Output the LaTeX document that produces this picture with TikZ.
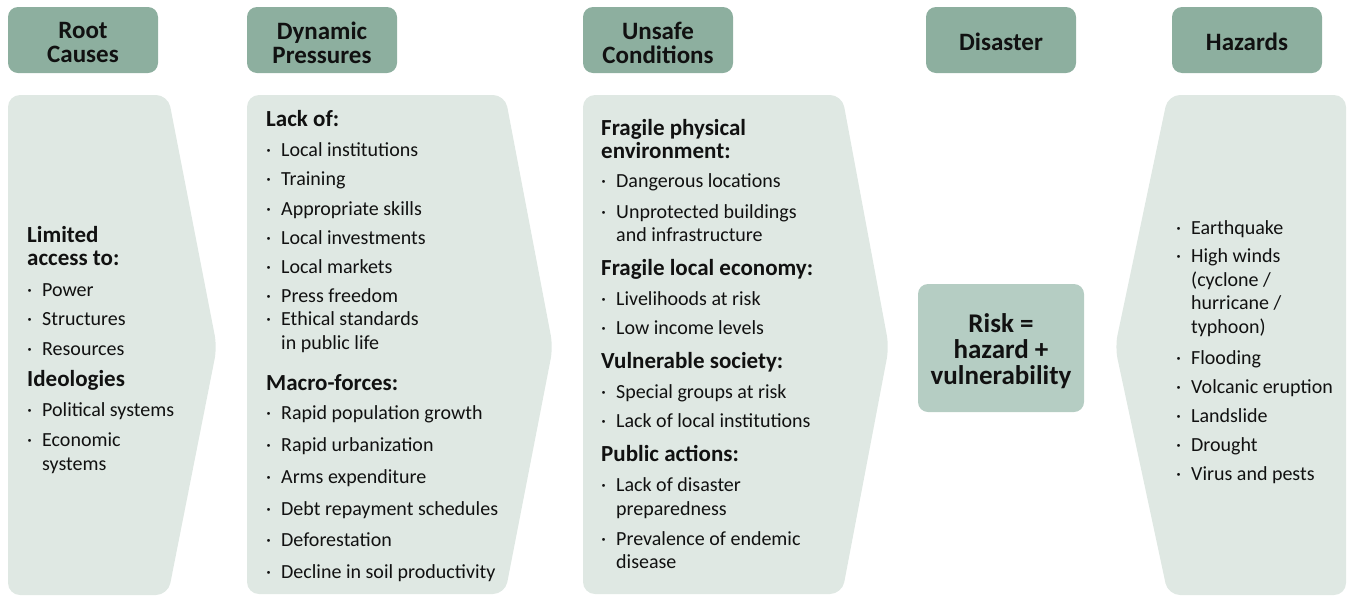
\documentclass[tikz,border=0pt]{standalone}
\usepackage{fontspec}
\setmainfont{Carlito}
\definecolor{hdr}{HTML}{8DAF9F}
\definecolor{bodyc}{HTML}{DFE8E3}
\definecolor{riskc}{HTML}{B5CDC3}
\definecolor{ink}{HTML}{111111}
\newcommand\ifont{\fontsize{20}{23.5}\selectfont}
\newcommand\bfont{\fontsize{23}{23}\selectfont\bfseries}
\newcommand\hfont{\fontsize{25}{24}\selectfont\bfseries}
\newcommand\rfont{\fontsize{27}{26}\selectfont\bfseries}
\newcommand\bt[1]{\makebox[15pt][l]{·}#1}
\newcommand\nl{\\\hspace*{15pt}}
\tikzset{
  hbox/.style={fill=hdr, rounded corners=10pt, minimum width=150pt, minimum height=66pt, inner sep=0pt},
  htext/.style={align=center, font=\hfont, text=ink, inner sep=0pt},
  bodyshape/.style={fill=bodyc, rounded corners=12pt},
  hdt/.style={anchor=base west, inner sep=0pt, font=\bfont, align=left, text=ink},
  itt/.style={anchor=base west, inner sep=0pt, font=\ifont, align=left, text=ink},
}
\begin{document}
\begin{tikzpicture}[x=1pt,y=-1pt]
\useasboundingbox (0,0) rectangle (1347,598);
% header boxes
\node[hbox] (h1) at (83,40) {};
\node[hbox] (h2) at (322,40) {};
\node[hbox] (h3) at (658,40) {};
\node[hbox] (h4) at (1001,40) {};
\node[hbox] (h5) at (1247,40) {};
\node[htext] (t1) at (83,42.5) {Root\\Causes};
\node[htext] (t2) at (322,42.5) {Dynamic\\Pressures};
\node[htext] (t3) at (658,42.5) {Unsafe\\Conditions};
\node[htext] (t4) at (1001,42) {Disaster};
\node[htext] (t5) at (1247,42) {Hazards};
% body chevrons
\fill[bodyshape] (8,95) -- (168,95) -- (217,347) -- (168,595) -- (8,595) -- cycle;
\fill[bodyshape] (247,95) -- (505,95) -- (553,347) -- (505,594) -- (247,594) -- cycle;
\fill[bodyshape] (583,95) -- (842,95) -- (889,347) -- (842,594) -- (583,594) -- cycle;
\fill[bodyshape] (1168,95) -- (1346,95) -- (1346,595) -- (1168,595) -- (1115,347) -- cycle;
% risk box
\node[fill=riskc, rounded corners=10pt, minimum width=166pt, minimum height=128pt, inner sep=0pt] (risk) at (1001,348) {};
\node[align=center, font=\rfont, text=ink, inner sep=0pt] (riskt) at (1001,351) {Risk =\\hazard +\\vulnerability};
% Root causes
\node[hdt] (r1) at (27,265.5) {Limited\\access to:};
\node[itt] (r2) at (27,296) {\bt{Power}};
\node[itt] (r3) at (27,325) {\bt{Structures}};
\node[itt] (r4) at (27,355) {\bt{Resources}};
\node[hdt] (r5) at (27,386.7) {Ideologies};
\node[itt] (r6) at (27,416.7) {\bt{Political systems}};
\node[itt] (r7) at (27,470.2) {\bt{Economic}\nl systems};
% Dynamic pressures
\node[hdt] (d1) at (266,126) {Lack of:};
\node[itt] (d2) at (266,156) {\bt{Local institutions}};
\node[itt] (d3) at (266,185.5) {\bt{Training}};
\node[itt] (d4) at (266,215) {\bt{Appropriate skills}};
\node[itt] (d5) at (266,244) {\bt{Local investments}};
\node[itt] (d6) at (266,273.5) {\bt{Local markets}};
\node[itt] (d7) at (266,302.5) {\bt{Press freedom}};
\node[itt] (d8) at (266,349) {\bt{Ethical standards}\nl in public life};
\node[hdt] (d9) at (266,390) {Macro-forces:};
\node[itt] (d10) at (266,419.5) {\bt{Rapid population growth}};
\node[itt] (d11) at (266,451.5) {\bt{Rapid urbanization}};
\node[itt] (d12) at (266,483) {\bt{Arms expenditure}};
\node[itt] (d13) at (266,515) {\bt{Debt repayment schedules}};
\node[itt] (d14) at (266,546) {\bt{Deforestation}};
\node[itt] (d15) at (266,578) {\bt{Decline in soil productivity}};
% Unsafe conditions
\node[hdt] (u1) at (601,158) {Fragile physical\\environment:};
\node[itt] (u2) at (601,187) {\bt{Dangerous locations}};
\node[itt] (u3) at (601,241.5) {\bt{Unprotected buildings}\nl and infrastructure};
\node[hdt] (u4) at (601,275) {Fragile local economy:};
\node[itt] (u5) at (601,305) {\bt{Livelihoods at risk}};
\node[itt] (u6) at (601,334.5) {\bt{Low income levels}};
\node[hdt] (u7) at (601,368) {Vulnerable society:};
\node[itt] (u8) at (601,398) {\bt{Special groups at risk}};
\node[itt] (u9) at (601,427.5) {\bt{Lack of local institutions}};
\node[hdt] (u10) at (601,461.5) {Public actions:};
\node[itt] (u11) at (601,515) {\bt{Lack of disaster}\nl preparedness};
\node[itt] (u12) at (601,568.5) {\bt{Prevalence of endemic}\nl disease};
% Hazards
\node[itt] (z1) at (1176,234) {\bt{Earthquake}};
\node[itt] (z2) at (1176,333) {\bt{High winds}\nl (cyclone /\nl hurricane /\nl typhoon)};
\node[itt] (z3) at (1176,364) {\bt{Flooding}};
\node[itt] (z4) at (1176,393) {\bt{Volcanic eruption}};
\node[itt] (z5) at (1176,422) {\bt{Landslide}};
\node[itt] (z6) at (1176,451) {\bt{Drought}};
\node[itt] (z7) at (1176,480.5) {\bt{Virus and pests}};
\end{tikzpicture}
\end{document}
